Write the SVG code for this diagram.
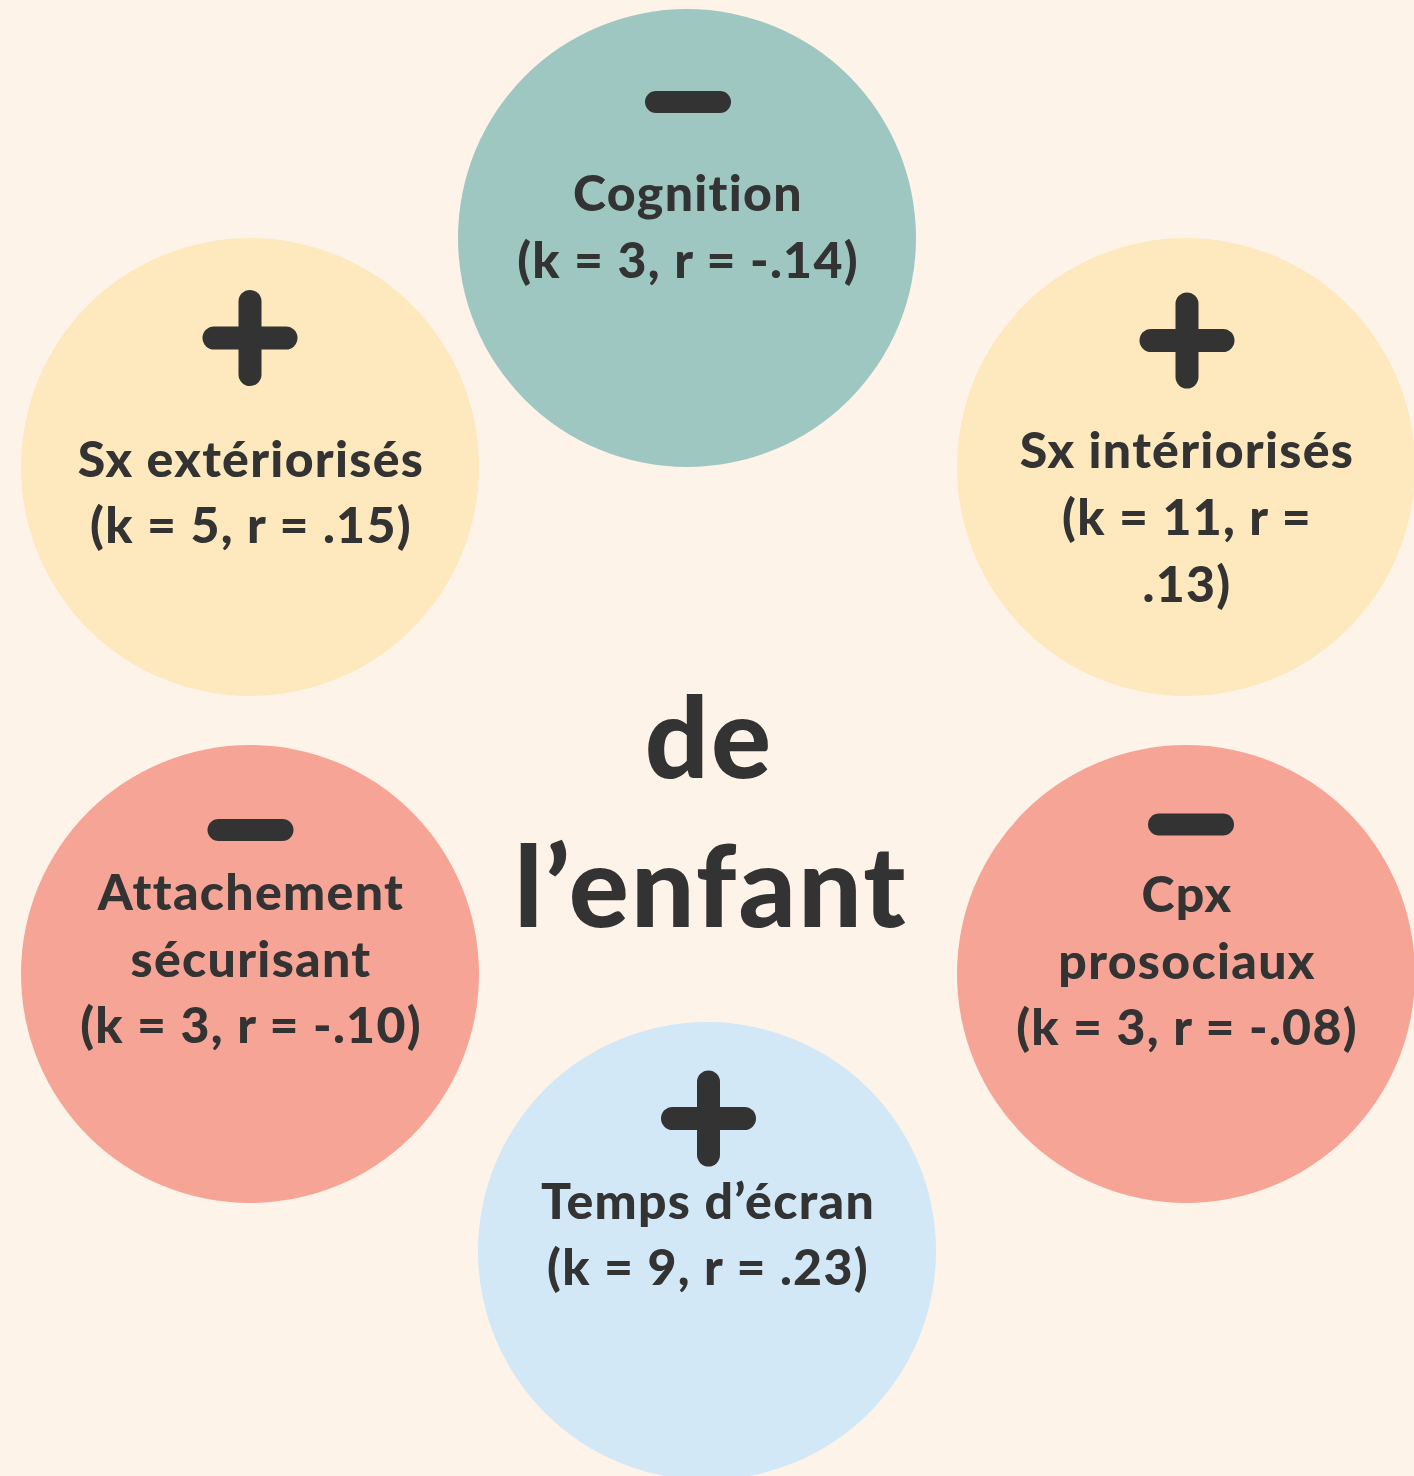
<svg xmlns="http://www.w3.org/2000/svg" width="1414" height="1476" viewBox="0 0 1414 1476">
<defs>
<style>
.t{font-family:Lato,"Noto Sans","Liberation Sans",sans-serif;font-weight:900;fill:#333333;text-anchor:middle;font-size:50px;letter-spacing:1.3px}
.big{font-size:112px;letter-spacing:2.3px}
.sym{fill:#333333}
</style>
<g id="minus"><rect x="-43" y="-11" width="86" height="22" rx="11" class="sym"/></g>
<g id="plus"><rect x="-11.5" y="-48" width="23" height="96" rx="11.5" class="sym"/><rect x="-47.5" y="-11.5" width="95" height="23" rx="11.5" class="sym"/></g>
</defs>
<rect width="1414" height="1476" fill="#FEF3E9"/>
<g id="connectors"></g>
<g id="cognition">
<circle cx="687" cy="238" r="229" fill="#9FC7C1"/>
<use href="#minus" x="688" y="102"/>
<text class="t" x="688" y="211">Cognition</text>
<text class="t" x="688" y="278">(k = 3, r = -.14)</text>
</g>
<g id="sx-exteriorises">
<circle cx="250" cy="467" r="229" fill="#FEE8BD"/>
<use href="#plus" x="250" y="338"/>
<text class="t" x="251" y="477">Sx extériorisés</text>
<text class="t" x="251" y="543">(k = 5, r = .15)</text>
</g>
<g id="sx-interiorises">
<circle cx="1186" cy="467" r="229" fill="#FEE8BD"/>
<use href="#plus" x="1187" y="340.5"/>
<text class="t" x="1187" y="468">Sx intériorisés</text>
<text class="t" x="1187" y="535">(k = 11, r =</text>
<text class="t" x="1187" y="602">.13)</text>
</g>
<g id="attachement">
<circle cx="250" cy="974" r="229" fill="#F6A496"/>
<use href="#minus" x="250.5" y="830"/>
<text class="t" x="251" y="910">Attachement</text>
<text class="t" x="251" y="977">sécurisant</text>
<text class="t" x="251" y="1043">(k = 3, r = -.10)</text>
</g>
<g id="cpx-prosociaux">
<circle cx="1186" cy="974" r="229" fill="#F6A496"/>
<use href="#minus" x="1191" y="824.5"/>
<text class="t" x="1187" y="912">Cpx</text>
<text class="t" x="1187" y="979">prosociaux</text>
<text class="t" x="1187" y="1045">(k = 3, r = -.08)</text>
</g>
<g id="temps-ecran">
<circle cx="707" cy="1251" r="229" fill="#D2E8F7"/>
<use href="#plus" x="708.5" y="1118.5"/>
<text class="t" x="708" y="1219">Temps d’écran</text>
<text class="t" x="708" y="1285">(k = 9, r = .23)</text>
</g>
<g id="center-label">
<text class="t big" x="709" y="778">de</text>
<text class="t big" x="711" y="927">l’enfant</text>
</g>
</svg>
